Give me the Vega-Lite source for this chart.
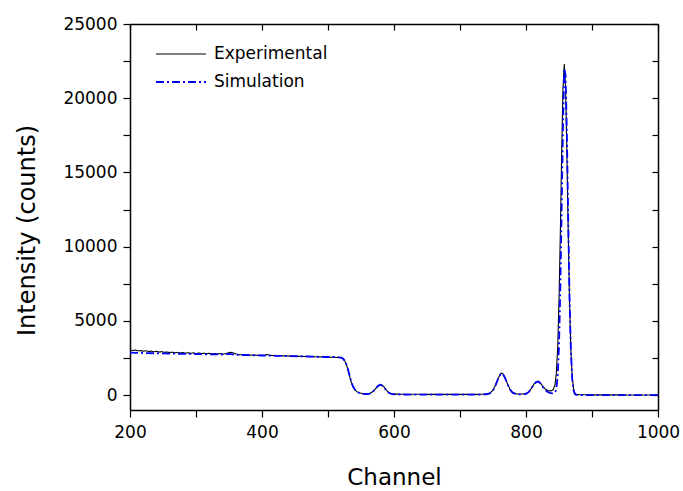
{
 "$schema": "https://vega.github.io/schema/vega-lite/v6.json",
 "width": 528,
 "height": 386,
 "autosize": {"type": "none"},
 "padding": {"left": 130, "top": 24, "right": 25, "bottom": 81},
 "config": {
  "view": {"stroke": null},
  "font": "DejaVu Sans",
  "axis": {"domainColor": "black", "tickColor": "black", "labelColor": "black", "titleColor": "black", "grid": false, "labelFont": "DejaVu Sans", "titleFont": "DejaVu Sans", "labelFontSize": 17, "titleFontSize": 23, "titleFontWeight": "normal", "domainWidth": 1.5, "tickWidth": 1.2},
  "legend": {"orient": "none", "legendX": 25, "legendY": 19, "title": null, "labelFontSize": 17, "labelFont": "DejaVu Sans", "labelColor": "black", "symbolType": "stroke", "symbolSize": 2500, "symbolOpacity": 1, "clipHeight": 22, "rowPadding": 6, "labelOffset": 7}
 },
 "data": {"values": [
  {"c":200,"v":3060,"s":"Experimental"},{"c":204,"v":3010,"s":"Experimental"},{"c":208,"v":3040,"s":"Experimental"},{"c":212,"v":2980,"s":"Experimental"},{"c":216,"v":3000,"s":"Experimental"},{"c":220,"v":2960,"s":"Experimental"},{"c":224,"v":2990,"s":"Experimental"},{"c":228,"v":2940,"s":"Experimental"},{"c":232,"v":2970,"s":"Experimental"},{"c":236,"v":2920,"s":"Experimental"},{"c":240,"v":2950,"s":"Experimental"},{"c":244,"v":2900,"s":"Experimental"},{"c":248,"v":2930,"s":"Experimental"},{"c":252,"v":2880,"s":"Experimental"},{"c":256,"v":2910,"s":"Experimental"},{"c":260,"v":2870,"s":"Experimental"},{"c":264,"v":2890,"s":"Experimental"},{"c":268,"v":2850,"s":"Experimental"},{"c":272,"v":2880,"s":"Experimental"},{"c":276,"v":2840,"s":"Experimental"},{"c":280,"v":2870,"s":"Experimental"},{"c":284,"v":2830,"s":"Experimental"},{"c":288,"v":2860,"s":"Experimental"},{"c":292,"v":2810,"s":"Experimental"},{"c":296,"v":2850,"s":"Experimental"},{"c":300,"v":2800,"s":"Experimental"},{"c":304,"v":2840,"s":"Experimental"},{"c":308,"v":2800,"s":"Experimental"},{"c":312,"v":2830,"s":"Experimental"},{"c":316,"v":2790,"s":"Experimental"},{"c":320,"v":2820,"s":"Experimental"},{"c":324,"v":2780,"s":"Experimental"},{"c":328,"v":2810,"s":"Experimental"},{"c":332,"v":2770,"s":"Experimental"},{"c":336,"v":2800,"s":"Experimental"},{"c":340,"v":2760,"s":"Experimental"},{"c":344,"v":2790,"s":"Experimental"},{"c":348,"v":2830,"s":"Experimental"},{"c":352,"v":2890,"s":"Experimental"},{"c":356,"v":2850,"s":"Experimental"},{"c":360,"v":2780,"s":"Experimental"},{"c":364,"v":2740,"s":"Experimental"},{"c":368,"v":2720,"s":"Experimental"},{"c":372,"v":2730,"s":"Experimental"},{"c":376,"v":2700,"s":"Experimental"},{"c":380,"v":2720,"s":"Experimental"},{"c":384,"v":2690,"s":"Experimental"},{"c":388,"v":2710,"s":"Experimental"},{"c":392,"v":2680,"s":"Experimental"},{"c":396,"v":2700,"s":"Experimental"},{"c":400,"v":2670,"s":"Experimental"},{"c":404,"v":2690,"s":"Experimental"},{"c":408,"v":2740,"s":"Experimental"},{"c":412,"v":2690,"s":"Experimental"},{"c":416,"v":2660,"s":"Experimental"},{"c":420,"v":2680,"s":"Experimental"},{"c":424,"v":2650,"s":"Experimental"},{"c":428,"v":2670,"s":"Experimental"},{"c":432,"v":2640,"s":"Experimental"},{"c":436,"v":2660,"s":"Experimental"},{"c":440,"v":2630,"s":"Experimental"},{"c":444,"v":2650,"s":"Experimental"},{"c":448,"v":2620,"s":"Experimental"},{"c":452,"v":2640,"s":"Experimental"},{"c":456,"v":2610,"s":"Experimental"},{"c":460,"v":2630,"s":"Experimental"},{"c":464,"v":2600,"s":"Experimental"},{"c":468,"v":2620,"s":"Experimental"},{"c":472,"v":2590,"s":"Experimental"},{"c":476,"v":2610,"s":"Experimental"},{"c":480,"v":2580,"s":"Experimental"},{"c":484,"v":2600,"s":"Experimental"},{"c":488,"v":2570,"s":"Experimental"},{"c":492,"v":2590,"s":"Experimental"},{"c":496,"v":2560,"s":"Experimental"},{"c":500,"v":2580,"s":"Experimental"},{"c":504,"v":2550,"s":"Experimental"},{"c":508,"v":2570,"s":"Experimental"},{"c":512,"v":2540,"s":"Experimental"},{"c":516,"v":2550,"s":"Experimental"},{"c":520,"v":2520,"s":"Experimental"},{"c":523,"v":2440,"s":"Experimental"},{"c":526,"v":2250,"s":"Experimental"},{"c":529,"v":1900,"s":"Experimental"},{"c":532,"v":1400,"s":"Experimental"},{"c":535,"v":900,"s":"Experimental"},{"c":538,"v":560,"s":"Experimental"},{"c":541,"v":350,"s":"Experimental"},{"c":544,"v":230,"s":"Experimental"},{"c":548,"v":150,"s":"Experimental"},{"c":552,"v":110,"s":"Experimental"},{"c":556,"v":90,"s":"Experimental"},{"c":560,"v":90,"s":"Experimental"},{"c":564,"v":130,"s":"Experimental"},{"c":568,"v":240,"s":"Experimental"},{"c":572,"v":430,"s":"Experimental"},{"c":576,"v":650,"s":"Experimental"},{"c":580,"v":730,"s":"Experimental"},{"c":584,"v":600,"s":"Experimental"},{"c":588,"v":360,"s":"Experimental"},{"c":592,"v":180,"s":"Experimental"},{"c":596,"v":100,"s":"Experimental"},{"c":600,"v":70,"s":"Experimental"},{"c":620,"v":60,"s":"Experimental"},{"c":650,"v":55,"s":"Experimental"},{"c":700,"v":50,"s":"Experimental"},{"c":730,"v":55,"s":"Experimental"},{"c":740,"v":70,"s":"Experimental"},{"c":745,"v":130,"s":"Experimental"},{"c":750,"v":330,"s":"Experimental"},{"c":754,"v":700,"s":"Experimental"},{"c":758,"v":1150,"s":"Experimental"},{"c":762,"v":1480,"s":"Experimental"},{"c":765,"v":1450,"s":"Experimental"},{"c":768,"v":1200,"s":"Experimental"},{"c":772,"v":760,"s":"Experimental"},{"c":776,"v":380,"s":"Experimental"},{"c":780,"v":170,"s":"Experimental"},{"c":785,"v":90,"s":"Experimental"},{"c":790,"v":70,"s":"Experimental"},{"c":796,"v":80,"s":"Experimental"},{"c":800,"v":110,"s":"Experimental"},{"c":804,"v":220,"s":"Experimental"},{"c":808,"v":450,"s":"Experimental"},{"c":812,"v":750,"s":"Experimental"},{"c":816,"v":920,"s":"Experimental"},{"c":819,"v":930,"s":"Experimental"},{"c":822,"v":800,"s":"Experimental"},{"c":826,"v":560,"s":"Experimental"},{"c":830,"v":380,"s":"Experimental"},{"c":834,"v":300,"s":"Experimental"},{"c":838,"v":290,"s":"Experimental"},{"c":841,"v":360,"s":"Experimental"},{"c":844,"v":700,"s":"Experimental"},{"c":846,"v":1500,"s":"Experimental"},{"c":848,"v":3200,"s":"Experimental"},{"c":850,"v":6350,"s":"Experimental"},{"c":852,"v":10850,"s":"Experimental"},{"c":854,"v":16200,"s":"Experimental"},{"c":856,"v":20600,"s":"Experimental"},{"c":858,"v":22300,"s":"Experimental"},{"c":860,"v":20600,"s":"Experimental"},{"c":862,"v":16200,"s":"Experimental"},{"c":864,"v":10850,"s":"Experimental"},{"c":866,"v":6200,"s":"Experimental"},{"c":868,"v":3020,"s":"Experimental"},{"c":870,"v":1250,"s":"Experimental"},{"c":872,"v":440,"s":"Experimental"},{"c":874,"v":140,"s":"Experimental"},{"c":876,"v":60,"s":"Experimental"},{"c":880,"v":30,"s":"Experimental"},{"c":900,"v":20,"s":"Experimental"},{"c":950,"v":15,"s":"Experimental"},{"c":1000,"v":10,"s":"Experimental"},
  {"c":200,"v":2860,"s":"Simulation"},{"c":220,"v":2840,"s":"Simulation"},{"c":240,"v":2820,"s":"Simulation"},{"c":260,"v":2800,"s":"Simulation"},{"c":280,"v":2780,"s":"Simulation"},{"c":300,"v":2770,"s":"Simulation"},{"c":320,"v":2750,"s":"Simulation"},{"c":340,"v":2740,"s":"Simulation"},{"c":350,"v":2780,"s":"Simulation"},{"c":360,"v":2720,"s":"Simulation"},{"c":380,"v":2690,"s":"Simulation"},{"c":400,"v":2670,"s":"Simulation"},{"c":420,"v":2650,"s":"Simulation"},{"c":440,"v":2630,"s":"Simulation"},{"c":460,"v":2610,"s":"Simulation"},{"c":480,"v":2590,"s":"Simulation"},{"c":500,"v":2570,"s":"Simulation"},{"c":515,"v":2550,"s":"Simulation"},{"c":520,"v":2530,"s":"Simulation"},{"c":523,"v":2450,"s":"Simulation"},{"c":526,"v":2280,"s":"Simulation"},{"c":529,"v":1950,"s":"Simulation"},{"c":532,"v":1450,"s":"Simulation"},{"c":535,"v":950,"s":"Simulation"},{"c":538,"v":580,"s":"Simulation"},{"c":541,"v":360,"s":"Simulation"},{"c":544,"v":230,"s":"Simulation"},{"c":548,"v":140,"s":"Simulation"},{"c":552,"v":90,"s":"Simulation"},{"c":556,"v":70,"s":"Simulation"},{"c":560,"v":70,"s":"Simulation"},{"c":564,"v":110,"s":"Simulation"},{"c":568,"v":220,"s":"Simulation"},{"c":572,"v":420,"s":"Simulation"},{"c":576,"v":630,"s":"Simulation"},{"c":580,"v":700,"s":"Simulation"},{"c":584,"v":580,"s":"Simulation"},{"c":588,"v":340,"s":"Simulation"},{"c":592,"v":160,"s":"Simulation"},{"c":596,"v":80,"s":"Simulation"},{"c":600,"v":50,"s":"Simulation"},{"c":620,"v":40,"s":"Simulation"},{"c":650,"v":35,"s":"Simulation"},{"c":700,"v":35,"s":"Simulation"},{"c":730,"v":40,"s":"Simulation"},{"c":740,"v":60,"s":"Simulation"},{"c":745,"v":120,"s":"Simulation"},{"c":750,"v":310,"s":"Simulation"},{"c":754,"v":680,"s":"Simulation"},{"c":758,"v":1120,"s":"Simulation"},{"c":762,"v":1450,"s":"Simulation"},{"c":765,"v":1420,"s":"Simulation"},{"c":768,"v":1180,"s":"Simulation"},{"c":772,"v":740,"s":"Simulation"},{"c":776,"v":360,"s":"Simulation"},{"c":780,"v":150,"s":"Simulation"},{"c":785,"v":70,"s":"Simulation"},{"c":790,"v":50,"s":"Simulation"},{"c":796,"v":60,"s":"Simulation"},{"c":800,"v":90,"s":"Simulation"},{"c":804,"v":200,"s":"Simulation"},{"c":808,"v":430,"s":"Simulation"},{"c":812,"v":730,"s":"Simulation"},{"c":816,"v":900,"s":"Simulation"},{"c":819,"v":910,"s":"Simulation"},{"c":822,"v":780,"s":"Simulation"},{"c":826,"v":520,"s":"Simulation"},{"c":830,"v":300,"s":"Simulation"},{"c":834,"v":180,"s":"Simulation"},{"c":838,"v":130,"s":"Simulation"},{"c":841,"v":120,"s":"Simulation"},{"c":844,"v":180,"s":"Simulation"},{"c":846,"v":400,"s":"Simulation"},{"c":848,"v":1300,"s":"Simulation"},{"c":850,"v":3300,"s":"Simulation"},{"c":852,"v":7200,"s":"Simulation"},{"c":854,"v":12500,"s":"Simulation"},{"c":856,"v":18000,"s":"Simulation"},{"c":858,"v":22000,"s":"Simulation"},{"c":860,"v":21500,"s":"Simulation"},{"c":862,"v":17500,"s":"Simulation"},{"c":864,"v":11800,"s":"Simulation"},{"c":866,"v":6500,"s":"Simulation"},{"c":868,"v":3000,"s":"Simulation"},{"c":870,"v":1100,"s":"Simulation"},{"c":872,"v":330,"s":"Simulation"},{"c":874,"v":80,"s":"Simulation"},{"c":876,"v":20,"s":"Simulation"},{"c":880,"v":10,"s":"Simulation"},{"c":900,"v":5,"s":"Simulation"},{"c":950,"v":0,"s":"Simulation"},{"c":1000,"v":0,"s":"Simulation"}
 ]},
 "layer": [
  {
   "mark": {"type": "line"},
   "encoding": {
    "x": {"field": "c", "type": "quantitative", "scale": {"domain": [200, 1000], "nice": false, "zero": false},
          "axis": {"orient": "bottom", "title": "Channel", "format": "d", "values": [200,300,400,500,600,700,800,900,1000], "labelExpr": "datum.value % 200 == 0 ? datum.label : ''", "tickSize": 7, "labelPadding": 7, "titlePadding": 26, "labelFlush": false}},
    "y": {"field": "v", "type": "quantitative", "scale": {"domain": [-1000, 25000], "nice": false, "zero": false},
          "axis": {"orient": "left", "title": "Intensity (counts)", "titleFontSize": 24, "titleY": 206, "values": [0,2500,5000,7500,10000,12500,15000,17500,20000,22500,25000], "format": "d", "labelExpr": "datum.value % 5000 == 0 ? datum.label : ''", "tickSize": 7, "labelPadding": 6, "titlePadding": 23}},
    "color": {"field": "s", "type": "nominal", "scale": {"domain": ["Experimental", "Simulation"], "range": ["#000000", "#0000ff"]}},
    "strokeDash": {"field": "s", "type": "nominal", "scale": {"domain": ["Experimental", "Simulation"], "range": [[1, 0], [8, 3, 2, 3]]}},
    "strokeWidth": {"field": "s", "type": "nominal", "scale": {"domain": ["Experimental", "Simulation"], "range": [1.1, 1.8]}}
   }
  },
  {
   "mark": {"type": "line", "opacity": 0},
   "encoding": {
    "x": {"field": "c", "type": "quantitative", "axis": {"orient": "top", "title": null, "labels": false, "values": [200,300,400,500,600,700,800,900,1000], "tickSize": -6}},
    "y": {"field": "v", "type": "quantitative", "axis": {"orient": "right", "title": null, "labels": false, "values": [0,2500,5000,7500,10000,12500,15000,17500,20000,22500,25000], "tickSize": -6}},
    "detail": {"field": "s"}
   }
  }
 ],
 "resolve": {"axis": {"x": "independent", "y": "independent"}}
}
